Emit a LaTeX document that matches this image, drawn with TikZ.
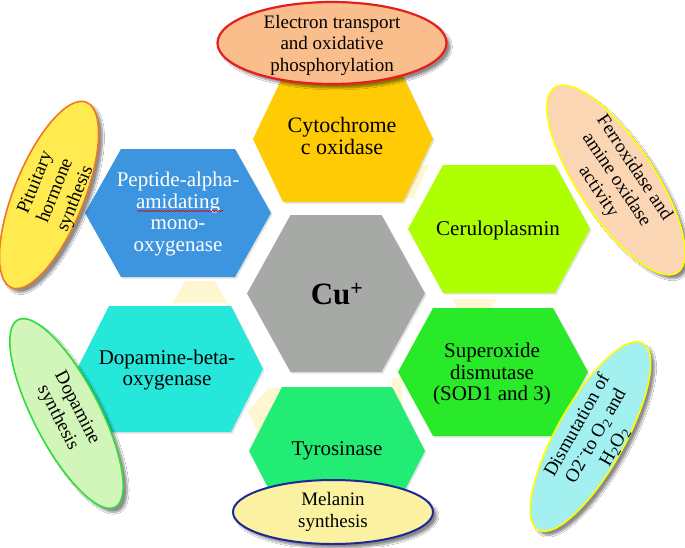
\documentclass[tikz,border=0pt]{standalone}
\usepackage{fontspec}
\setmainfont{Liberation Serif}
\usetikzlibrary{shapes.geometric,shadows,shadows.blur,decorations.pathmorphing}
\definecolor{cytoc}{HTML}{FFCB05}
\definecolor{peptc}{HTML}{3D95E0}
\definecolor{ceruc}{HTML}{ADFF02}
\definecolor{sodc}{HTML}{28EA28}
\definecolor{dopac}{HTML}{26E8DA}
\definecolor{tyroc}{HTML}{22EC74}
\definecolor{cuc}{HTML}{A7A9A6}
\definecolor{creamc}{HTML}{FFF6D2}
\definecolor{e1fill}{HTML}{F9BE8C}
\definecolor{e1line}{HTML}{E61E1E}
\definecolor{e2fill}{HTML}{FFEB50}
\definecolor{e2line}{HTML}{F07820}
\definecolor{e3fill}{HTML}{FBD6B4}
\definecolor{e3line}{HTML}{FFFF00}
\definecolor{e4fill}{HTML}{A2F0F0}
\definecolor{e5fill}{HTML}{D2F5B9}
\definecolor{e5line}{HTML}{33DC3C}
\definecolor{e6fill}{HTML}{FAF2A0}
\definecolor{e6line}{HTML}{1E2896}
\newcommand{\hexa}[6]{%
  \fill[#1, drop shadow={opacity=0.22, shadow xshift=1.5pt, shadow yshift=-1.5pt}]
    (#2-#4,#3) -- (#2-#6,#3-#5) -- (#2+#6,#3-#5) -- (#2+#4,#3)
    -- (#2+#6,#3+#5) -- (#2-#6,#3+#5) -- cycle;}
\tikzset{
  hextext/.style={font=\fontsize{21}{21.7}\selectfont, align=center, inner sep=0pt},
  elltext/.style={font=\fontsize{19}{21.5}\selectfont, align=center, inner sep=0pt},
  oval/.style={ellipse, inner sep=0pt, line width=1.6pt,
    blur shadow={shadow xshift=4pt, shadow yshift=-4pt, shadow blur steps=8, shadow opacity=45}},
}
\begin{document}
\begin{tikzpicture}[x=1pt,y=-1pt]
\useasboundingbox (0,0) rectangle (685,547);
\fill[white] (0,0) rectangle (685,547);
% faint cream reflections
\fill[creamc] (186,281) -- (214,281) -- (228,303) -- (172,303) -- cycle;
\fill[creamc] (408,165) -- (428,165) -- (414,198) -- (398,198) -- cycle;
\fill[creamc] (452,299) -- (497,299) -- (490,310) -- (458,310) -- cycle;
\fill[creamc] (268,388) -- (281,388) -- (281,440) -- (262,440) -- (248,412) -- cycle;
\fill[creamc] (392,378) -- (402,378) -- (402,410) -- (392,405) -- cycle;
% hexagons
\hexa{cytoc}{343}{139}{90}{63}{60}
\hexa{peptc}{178}{213}{93}{64}{57}
\hexa{ceruc}{499}{229}{91}{64}{56}
\hexa{sodc}{493}{372}{95}{64}{60}
\hexa{dopac}{170}{369}{93}{63}{61}
\hexa{tyroc}{337}{451}{88}{64}{55}
\hexa{cuc}{336}{293.5}{89}{78.5}{45.5}
% hexagon texts
\node[hextext, font=\fontsize{22}{22}\selectfont] (cyto) at (342,136) {Cytochrome\\c oxidase};
\node[hextext, text=white] (pept) at (178,214) {Peptide-alpha-\\amidating\\mono-\\oxygenase};
\draw[red!85!black, line width=0.6pt, decorate, decoration={snake, amplitude=0.7pt, segment length=3pt}] (137,211) -- (223,211);
\node[hextext] (ceru) at (498,230) {Ceruloplasmin};
\node[hextext] (sod) at (492,374) {Superoxide\\dismutase\\(SOD1 and 3)};
\node[hextext] (dopa) at (167,370) {Dopamine-beta-\\oxygenase};
\node[hextext] (tyro) at (337,451) {Tyrosinase};
\node[inner sep=0pt, font=\fontsize{31}{33}\selectfont\bfseries] (cu) at (337,294) {Cu\textsuperscript{+}};
% ellipses
\node[oval, draw=e1line, line width=2.2pt, fill=e1fill, minimum width=229pt, minimum height=82pt] (e1) at (332,43) {};
\node[elltext] (t1) at (332,45) {Electron transport\\and oxidative\\phosphorylation};
\node[oval, draw=e2line, fill=e2fill, minimum width=200pt, minimum height=70pt, rotate=68] (e2) at (49,195) {};
\node[elltext, rotate=68] (t2) at (56,191) {Pituitary\\hormone\\synthesis};
\node[oval, draw=e3line, fill=e3fill, minimum width=222pt, minimum height=76pt, rotate=-56.4] (e3) at (616,180) {};
\node[elltext, rotate=-56.4] (t3) at (616,180) {Ferroxidase and\\amine oxidase\\activity};
\node[oval, draw=e3line, fill=e4fill, minimum width=214pt, minimum height=68pt, rotate=60.7] (e4) at (590.5,436.5) {};
\node[elltext, rotate=60.7] (t4) at (596,436) {Dismutation of\\O2\textsuperscript{·-}to O\textsubscript{2} and\\H\textsubscript{2}O\textsubscript{2}};
\node[oval, draw=e5line, fill=e5fill, minimum width=211pt, minimum height=66pt, rotate=-62.6] (e5) at (66.5,413.5) {};
\node[elltext, rotate=-62.6] (t5) at (67,413) {Dopamine\\synthesis};
\node[oval, draw=e6line, line width=2pt, fill=e6fill, minimum width=200pt, minimum height=64pt] (e6) at (333,512) {};
\node[elltext] (t6) at (333,512) {Melanin\\synthesis};
\end{tikzpicture}
\end{document}
